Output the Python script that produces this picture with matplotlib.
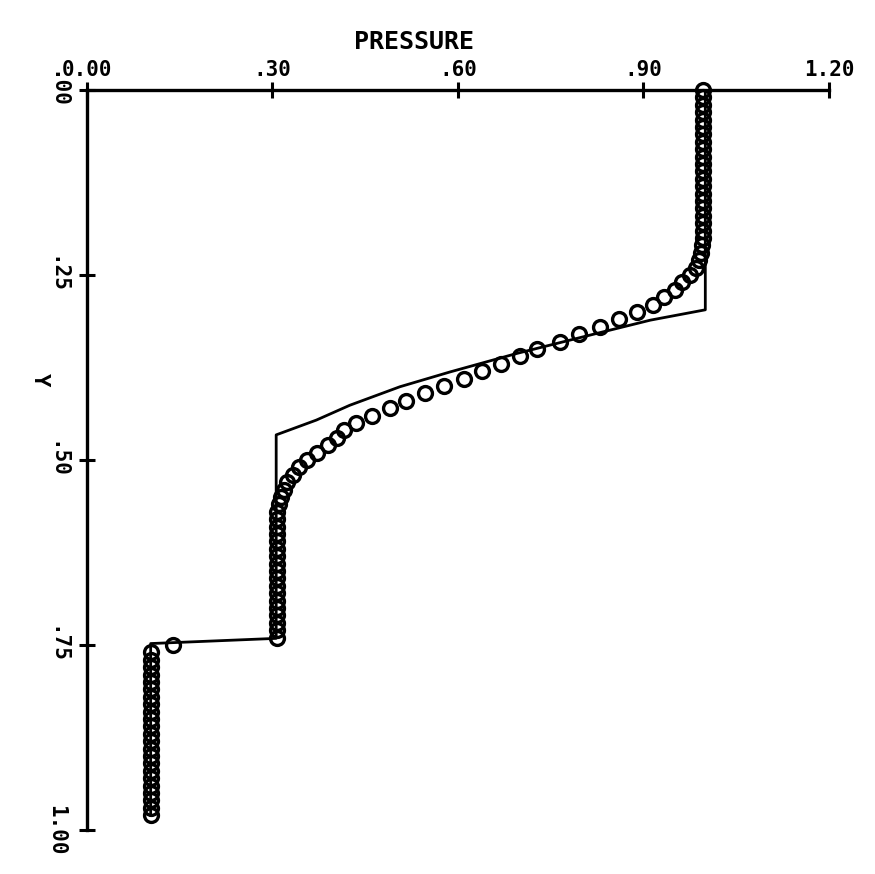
import matplotlib
matplotlib.use("Agg")
import matplotlib.pyplot as plt

# --- axis ticks ---
x_ticks = [0.0, 0.3, 0.6, 0.9, 1.2]
x_tick_labels = ["0.00", ".30", ".60", ".90", "1.20"]
y_ticks = [0.0, 0.25, 0.5, 0.75, 1.0]
y_tick_labels = [".00", ".25", ".50", ".75", "1.00"]

# --- exact solution (solid line) ---
exact_y = [0.000, 0.297, 0.311, 0.329, 0.356, 0.381, 0.401, 0.426, 0.446,
           0.466, 0.741, 0.748, 0.980]
exact_p = [1.000, 1.000, 0.911, 0.824, 0.695, 0.587, 0.506, 0.425, 0.371,
           0.306, 0.306, 0.103, 0.103]

# --- computed solution (circles) ---
calc_y = [0.00, 0.01, 0.02, 0.03, 0.04, 0.05, 0.06, 0.07, 0.08, 0.09,
          0.10, 0.11, 0.12, 0.13, 0.14, 0.15, 0.16, 0.17, 0.18, 0.19,
          0.20, 0.21, 0.22, 0.23, 0.24, 0.25, 0.26, 0.27, 0.28, 0.29,
          0.30, 0.31, 0.32, 0.33, 0.34, 0.35, 0.36, 0.37, 0.38, 0.39,
          0.40, 0.41, 0.42, 0.43, 0.44, 0.45, 0.46, 0.47, 0.48, 0.49,
          0.50, 0.51, 0.52, 0.53, 0.54, 0.55, 0.56, 0.57, 0.58, 0.59,
          0.60, 0.61, 0.62, 0.63, 0.64, 0.65, 0.66, 0.67, 0.68, 0.69,
          0.70, 0.71, 0.72, 0.73, 0.74, 0.75, 0.76, 0.77, 0.78, 0.79,
          0.80, 0.81, 0.82, 0.83, 0.84, 0.85, 0.86, 0.87, 0.88, 0.89,
          0.90, 0.91, 0.92, 0.93, 0.94, 0.95, 0.96, 0.97, 0.98]
calc_p = [0.997, 0.997, 0.997, 0.997, 0.997, 0.997, 0.997, 0.997, 0.997, 0.997,
          0.997, 0.997, 0.997, 0.997, 0.997, 0.997, 0.997, 0.997, 0.997, 0.997,
          0.996, 0.995, 0.993, 0.990, 0.985, 0.975, 0.963, 0.951, 0.933, 0.915,
          0.890, 0.860, 0.830, 0.796, 0.765, 0.728, 0.700, 0.670, 0.639, 0.610,
          0.578, 0.547, 0.516, 0.490, 0.461, 0.435, 0.415, 0.405, 0.389, 0.372,
          0.356, 0.343, 0.334, 0.324, 0.318, 0.313, 0.310, 0.308, 0.307, 0.307,
          0.307, 0.307, 0.307, 0.307, 0.307, 0.307, 0.307, 0.307, 0.307, 0.307,
          0.307, 0.307, 0.307, 0.307, 0.307, 0.139, 0.103, 0.103, 0.103, 0.103,
          0.103, 0.103, 0.103, 0.103, 0.103, 0.103, 0.103, 0.103, 0.103, 0.103,
          0.103, 0.103, 0.103, 0.103, 0.103, 0.103, 0.103, 0.103, 0.103]

plt.rcParams["font.family"] = ["DejaVu Sans Mono"]
plt.rcParams["font.weight"] = "bold"

fig = plt.figure(figsize=(8.75, 8.74), dpi=100)
ax = fig.add_axes([0.0994, 0.0503, 0.848, 0.8467])

ax.plot(exact_p, exact_y, color="black", lw=2.0, zorder=2)
ax.plot(calc_p, calc_y, linestyle="none", marker="o", ms=10.0,
        mfc="none", mec="black", mew=2.4, zorder=3, clip_on=False)

ax.set_xlim(0.0, 1.2)
ax.set_ylim(1.0, 0.0)

for side in ("right", "bottom"):
    ax.spines[side].set_visible(False)
for side in ("top", "left"):
    ax.spines[side].set_linewidth(2.4)

ax.xaxis.tick_top()
ax.set_xticks(x_ticks)
ax.set_xticklabels(x_tick_labels)
ax.set_yticks(y_ticks)
ax.set_yticklabels(y_tick_labels, rotation=270, va="center")

ax.tick_params(axis="x", direction="inout", length=12, width=2.2,
               pad=1, labelsize=15)
ax.tick_params(axis="y", direction="inout", length=12, width=2.2,
               pad=9, labelsize=15)

ax.text(0.529, -0.065, "PRESSURE", fontsize=18, ha="center", va="center",
        clip_on=False)
ax.text(-0.076, 0.392, "Y", fontsize=16, rotation=270, ha="center",
        va="center", clip_on=False)

fig.savefig("out.png", dpi=100)
